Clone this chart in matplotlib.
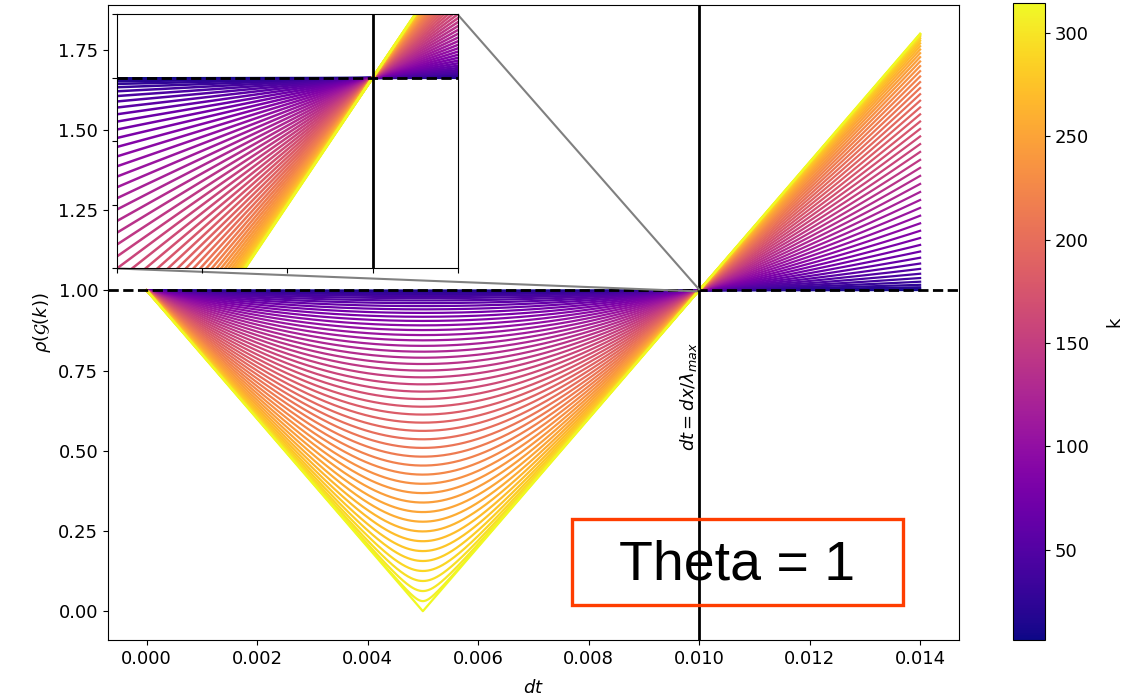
import numpy as np
import matplotlib
matplotlib.use("Agg")
import matplotlib.pyplot as plt
from matplotlib.patches import Rectangle
from mpl_toolkits.axes_grid1.inset_locator import mark_inset

# scheme parameters (explicit upwind, lambda = 1)
dx = 0.01
lam_max = 1.0
modes = np.arange(1, 51)            # 50 wave numbers
k_values = 2 * np.pi * modes        # 6.28 ... 314.16
dt_range = (0.0, 0.014)
inset_xlim = (0.00997, 0.01001)
inset_ylim = (0.997, 1.001)

dt = np.linspace(dt_range[0], dt_range[1], 1401)
dt_zoom = np.linspace(inset_xlim[0], inset_xlim[1], 401)


def spectral_radius(dt, k):
    c = lam_max * dt / dx
    g = 1 - c * (1 - np.exp(-1j * k * dx))
    return np.abs(g)


cmap = plt.get_cmap("plasma")
norm = plt.Normalize(k_values.min(), k_values.max())

fig = plt.figure(figsize=(11.36, 6.98), dpi=100)
ax = fig.add_axes([0.095, 0.083, 0.749, 0.91])
cax = fig.add_axes([0.892, 0.083, 0.028, 0.912])

axins = ax.inset_axes([0.011, 0.585, 0.40, 0.40])

for k in k_values:
    col = cmap(norm(k))
    ax.plot(dt, spectral_radius(dt, k), color=col, lw=1.6)
    axins.plot(dt_zoom, spectral_radius(dt_zoom, k), color=col, lw=1.8)

for a in (ax, axins):
    a.axhline(1.0, color="k", ls="--", lw=2)
    a.axvline(dx / lam_max, color="k", lw=2)

axins.set_xlim(*inset_xlim)
axins.set_ylim(*inset_ylim)
axins.set_xticks(np.linspace(inset_xlim[0], inset_xlim[1], 5))
axins.set_yticks(np.linspace(inset_ylim[0], inset_ylim[1], 5))
axins.set_xticklabels([])
axins.set_yticklabels([])
mark_inset(ax, axins, loc1=1, loc2=3, fc="none", ec="0.5", lw=1.5)

ax.text(dx / lam_max, 0.5, r"$dt = dx/\lambda_{max}$", rotation=90,
        ha="right", va="bottom", fontsize=13)

ax.set_xlabel(r"$dt$", fontsize=13, labelpad=8)
ax.set_ylabel(r"$\rho(\mathcal{G}(k))$", fontsize=13)
ax.tick_params(labelsize=13)

sm = plt.cm.ScalarMappable(cmap=cmap, norm=norm)
cb = fig.colorbar(sm, cax=cax)
cb.set_label("k", fontsize=13, labelpad=12)
cb.ax.tick_params(labelsize=13)

# annotation box
fig.patches.append(Rectangle((572 / 1136, 1 - 605 / 698), 331 / 1136, 86 / 698,
                             transform=fig.transFigure, fill=False,
                             ec="#ff3d00", lw=2.4))
fig.text(737 / 1136, 1 - 565 / 698, "Theta = 1", ha="center", va="center",
         fontsize=40, family="Liberation Sans")

fig.savefig("out.png", dpi=100)
